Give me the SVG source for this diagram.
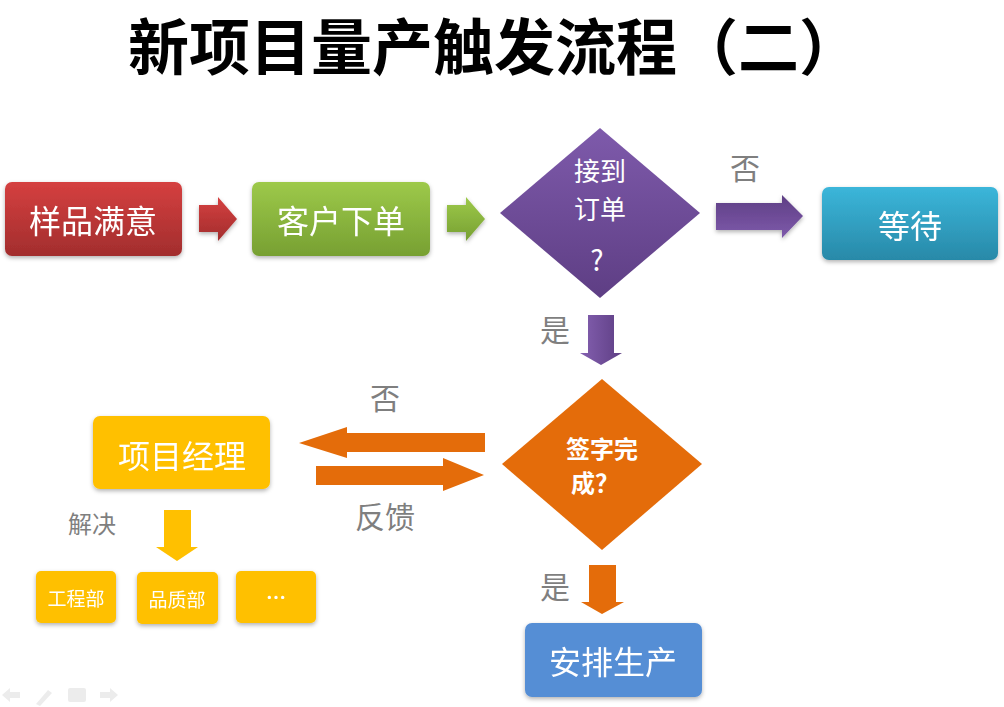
<svg xmlns="http://www.w3.org/2000/svg" width="1004" height="707" viewBox="0 0 1004 707">
<defs>
<linearGradient id="gRed" x1="0" y1="0" x2="0" y2="1"><stop offset="0" stop-color="#d54040"/><stop offset="1" stop-color="#a22d2d"/></linearGradient>
<linearGradient id="gGreen" x1="0" y1="0" x2="0" y2="1"><stop offset="0" stop-color="#9dc94a"/><stop offset="1" stop-color="#77a032"/></linearGradient>
<linearGradient id="gPurple" x1="0" y1="0" x2="0" y2="1"><stop offset="0" stop-color="#7e5aab"/><stop offset="1" stop-color="#5e3e84"/></linearGradient>
<linearGradient id="gPurpleH" x1="0" y1="0" x2="0" y2="1"><stop offset="0" stop-color="#5e3e84"/><stop offset="1" stop-color="#7e5aab"/></linearGradient>
<linearGradient id="gPurpleV" x1="0" y1="0" x2="1" y2="0"><stop offset="0" stop-color="#8460b0"/><stop offset="1" stop-color="#5e3e84"/></linearGradient>
<linearGradient id="gBlue" x1="0" y1="0" x2="0" y2="1"><stop offset="0" stop-color="#3bb6da"/><stop offset="1" stop-color="#2889a8"/></linearGradient>
<filter id="sh" x="-10%" y="-10%" width="120%" height="130%"><feDropShadow dx="0" dy="2" stdDeviation="2" flood-color="#000" flood-opacity="0.3"/></filter>
</defs>
<style>
.t{font-family:"Noto Sans CJK SC","Noto Sans",sans-serif;fill:#fff;text-anchor:middle;dominant-baseline:central}
.lbl{font-family:"Noto Sans CJK SC","Noto Sans",sans-serif;fill:#7f7f7f;text-anchor:middle;dominant-baseline:central;font-size:30px}
.yel{fill:#ffc000}
.org{fill:#e46c0a}
</style>
<rect width="1004" height="707" fill="#fff"/>
<text x="494" y="43" style="font-family:'Noto Sans CJK SC',sans-serif;font-weight:bold;font-size:61px;text-anchor:middle;dominant-baseline:central" fill="#000">新项目量产触发流程（二）</text>

<g id="n1" filter="url(#sh)"><rect x="5" y="182" width="177" height="74" rx="7" fill="url(#gRed)"/><text class="t" x="93" y="219" font-size="32">样品满意</text></g>
<g id="n2" filter="url(#sh)"><rect x="252" y="182" width="178" height="74" rx="7" fill="url(#gGreen)"/><text class="t" x="341" y="219" font-size="32">客户下单</text></g>
<g id="n3"><polygon points="600,128 700,213 600,298 500,213" fill="url(#gPurple)"/><text class="t" x="600" y="169" font-size="26">接到</text><text class="t" x="600" y="207" font-size="26">订单</text><text class="t" x="597" y="259" font-size="28">?</text></g>
<g id="n4" filter="url(#sh)"><rect x="822" y="187" width="176" height="73" rx="7" fill="url(#gBlue)"/><text class="t" x="910" y="224" font-size="32">等待</text></g>
<g id="n5"><polygon points="602,379 702,464 602,550 502,464" class="org"/><text class="t" x="602" y="447" font-size="24" font-weight="bold">签字完</text><text class="t" x="595" y="481" font-size="24" font-weight="bold">成？</text></g>
<g id="n6" filter="url(#sh)"><rect x="93" y="416" width="177" height="73" rx="7" class="yel"/><text class="t" x="182" y="454" font-size="32">项目经理</text></g>
<g id="n7" filter="url(#sh)"><rect x="36" y="571" width="80" height="52" rx="5" class="yel"/><text class="t" x="76" y="597" font-size="19">工程部</text></g>
<g id="n8" filter="url(#sh)"><rect x="137" y="572" width="81" height="52" rx="5" class="yel"/><text class="t" x="177" y="598" font-size="19">品质部</text></g>
<g id="n9" filter="url(#sh)"><rect x="236" y="571" width="80" height="52" rx="5" class="yel"/><text class="t" x="276" y="596" font-size="20" font-weight="bold">…</text></g>
<g id="n10" filter="url(#sh)"><rect x="525" y="623" width="177" height="74" rx="7" fill="#558ed5"/><text class="t" x="613" y="660" font-size="32">安排生产</text></g>

<g id="connectors">
<polygon points="199,205 218,205 218,197 237,219 218,241 218,232 199,232" fill="url(#gRed)" filter="url(#sh)"/>
<polygon points="447,205 466,205 466,197 485,219 466,241 466,232 447,232" fill="url(#gGreen)" filter="url(#sh)"/>
<polygon points="716,203 782,203 782,195 803,216 782,238 782,230 716,230" fill="url(#gPurpleH)" filter="url(#sh)"/>
<polygon points="588,315 614,315 614,353 622,353 601,365 580,353 588,353" fill="url(#gPurpleV)"/>
<polygon points="485,433 347,433 347,427 299,443 347,458 347,452 485,452" class="org"/>
<polygon points="316,466 443,466 443,458 484,475 443,491 443,485 316,485" class="org"/>
<polygon points="164,510 191,510 191,547 198,547 177,561 156,547 164,547" class="yel"/>
<polygon points="589,565 616,565 616,602 624,602 602,614 581,602 589,602" class="org"/>
</g>

<text class="lbl" x="745" y="166">否</text>
<text class="lbl" x="555" y="328">是</text>
<text class="lbl" x="385" y="396">否</text>
<text class="lbl" x="385" y="515" font-size="32">反馈</text>
<text class="lbl" x="92" y="522" style="font-size:24px">解决</text>
<text class="lbl" x="555" y="585">是</text>

<g fill="#ececec">
<polygon points="2,695 10,688 10,692 20,692 20,698 10,698 10,702"/>
<polygon points="36,704 48,690 52,693 40,706"/>
<rect x="68" y="688" width="18" height="14" rx="2"/>
<polygon points="118,695 110,688 110,692 100,692 100,698 110,698 110,702"/>
</g>
</svg>
